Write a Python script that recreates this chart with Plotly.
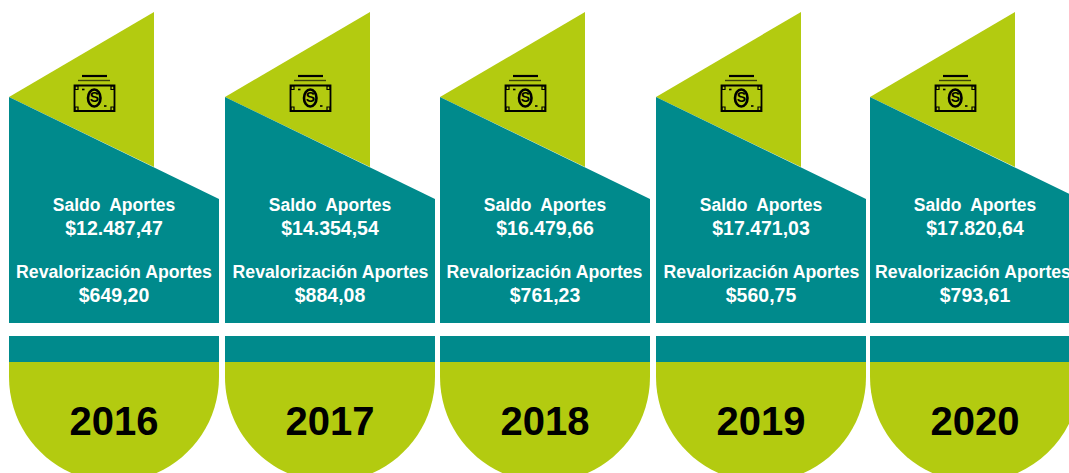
import plotly.graph_objects as go

years = ["2016", "2017", "2018", "2019", "2020"]
saldo = ["$12.487,47", "$14.354,54", "$16.479,66", "$17.471,03", "$17.820,64"]
revalorizacion = ["$649,20", "$884,08", "$761,23", "$560,75", "$793,61"]
saldo_label = "Saldo\u2002Aportes"
reval_label = "Revalorización Aportes"

TEAL = "#008A8C"
LIME = "#B3CB10"
FONT = "Liberation Sans"
W, H = 1069, 473
card_left = [9, 225, 440, 656, 870]
card_w = 210
reval_shift = [0, 0.5, -0.5, 0.5, -2]


def poly(points):
    return "M" + " L".join(f"{x},{y}" for x, y in points) + " Z"


shapes = []


def add_path(path, fill):
    shapes.append(dict(type="path", path=path, fillcolor=fill, line_width=0, xref="x", yref="y", layer="below"))


def add_line(x0, y0, x1, y1, width, color="black"):
    shapes.append(dict(type="line", x0=x0, y0=y0, x1=x1, y1=y1, xref="x", yref="y",
                       line=dict(color=color, width=width)))


for L in card_left:
    R = L + card_w
    C = L + card_w / 2
    # upper lime triangle and teal body
    add_path(poly([(L, 97), (L + 145, 12), (L + 145, 167)]), LIME)
    add_path(poly([(L, 97), (R, 199), (R, 323), (L, 323)]), TEAL)
    # lower band and rounded lime base
    add_path(poly([(L, 336), (R, 336), (R, 362), (L, 362)]), TEAL)
    yc, r, k = 377, card_w / 2, 0.5523 * card_w / 2
    add_path(
        f"M{L},362 L{R},362 L{R},{yc} "
        f"C{R},{yc + k} {C + k},{yc + r} {C},{yc + r} "
        f"C{C - k},{yc + r} {L},{yc + k} {L},{yc} Z",
        LIME,
    )
    # money icon
    ix = L + 65
    add_line(ix + 8, 76, ix + 33, 76, 2.2)
    add_line(ix + 4, 80.5, ix + 36, 80.5, 1.4, "#3d4408")
    shapes.append(dict(type="rect", x0=ix + 0.5, y0=85.5, x1=ix + 40.5, y1=111, xref="x", yref="y",
                       line=dict(color="black", width=1.8)))
    shapes.append(dict(type="circle", x0=ix + 14, y0=89.5, x1=ix + 26.5, y1=106.5, xref="x", yref="y",
                       line=dict(color="black", width=2.6)))
    for cx, cy in [(1, 86), (37, 86), (1, 107), (37, 107)]:
        shapes.append(dict(type="rect", x0=ix + cx, y0=cy, x1=ix + cx + 3, y1=cy + 3.5, xref="x", yref="y",
                           line=dict(color="black", width=1.2)))
    add_line(ix + 8, 89.5, ix + 10.5, 89.5, 1.6)
    add_line(ix + 30, 106, ix + 32.5, 106, 1.6)

centers = [L + card_w / 2 for L in card_left]
reval_centers = [c + s for c, s in zip(centers, reval_shift)]
icon_x = [L + 85.5 for L in card_left]
n = len(years)


def text_trace(xs, y, texts, size, color):
    return go.Scatter(
        x=xs, y=[y] * n, text=texts, mode="text", textposition="middle center",
        textfont=dict(family=FONT, size=size, color=color, weight="bold"),
        hoverinfo="skip", showlegend=False, cliponaxis=False,
    )


fig = go.Figure()
fig.add_trace(text_trace(centers, 207, [saldo_label] * n, 17.5, "white"))
fig.add_trace(text_trace(centers, 230, saldo, 19.5, "white"))
fig.add_trace(text_trace(reval_centers, 274, [reval_label] * n, 17.7, "white"))
fig.add_trace(text_trace(centers, 297, revalorizacion, 19.5, "white"))
fig.add_trace(text_trace(centers, 425, years, 40, "black"))
fig.add_trace(text_trace(icon_x, 98, ["S"] * n, 14, "black"))

fig.update_layout(
    width=W, height=H, margin=dict(l=0, r=0, t=0, b=0),
    paper_bgcolor="white", plot_bgcolor="white", shapes=shapes, hovermode=False,
    xaxis=dict(range=[0, W], visible=False, fixedrange=True),
    yaxis=dict(range=[H, 0], visible=False, fixedrange=True),
)
fig.write_html(
    "out.html",
    config={"displayModeBar": False},
    post_script="document.body.style.margin='0';document.body.style.overflow='hidden';",
)
